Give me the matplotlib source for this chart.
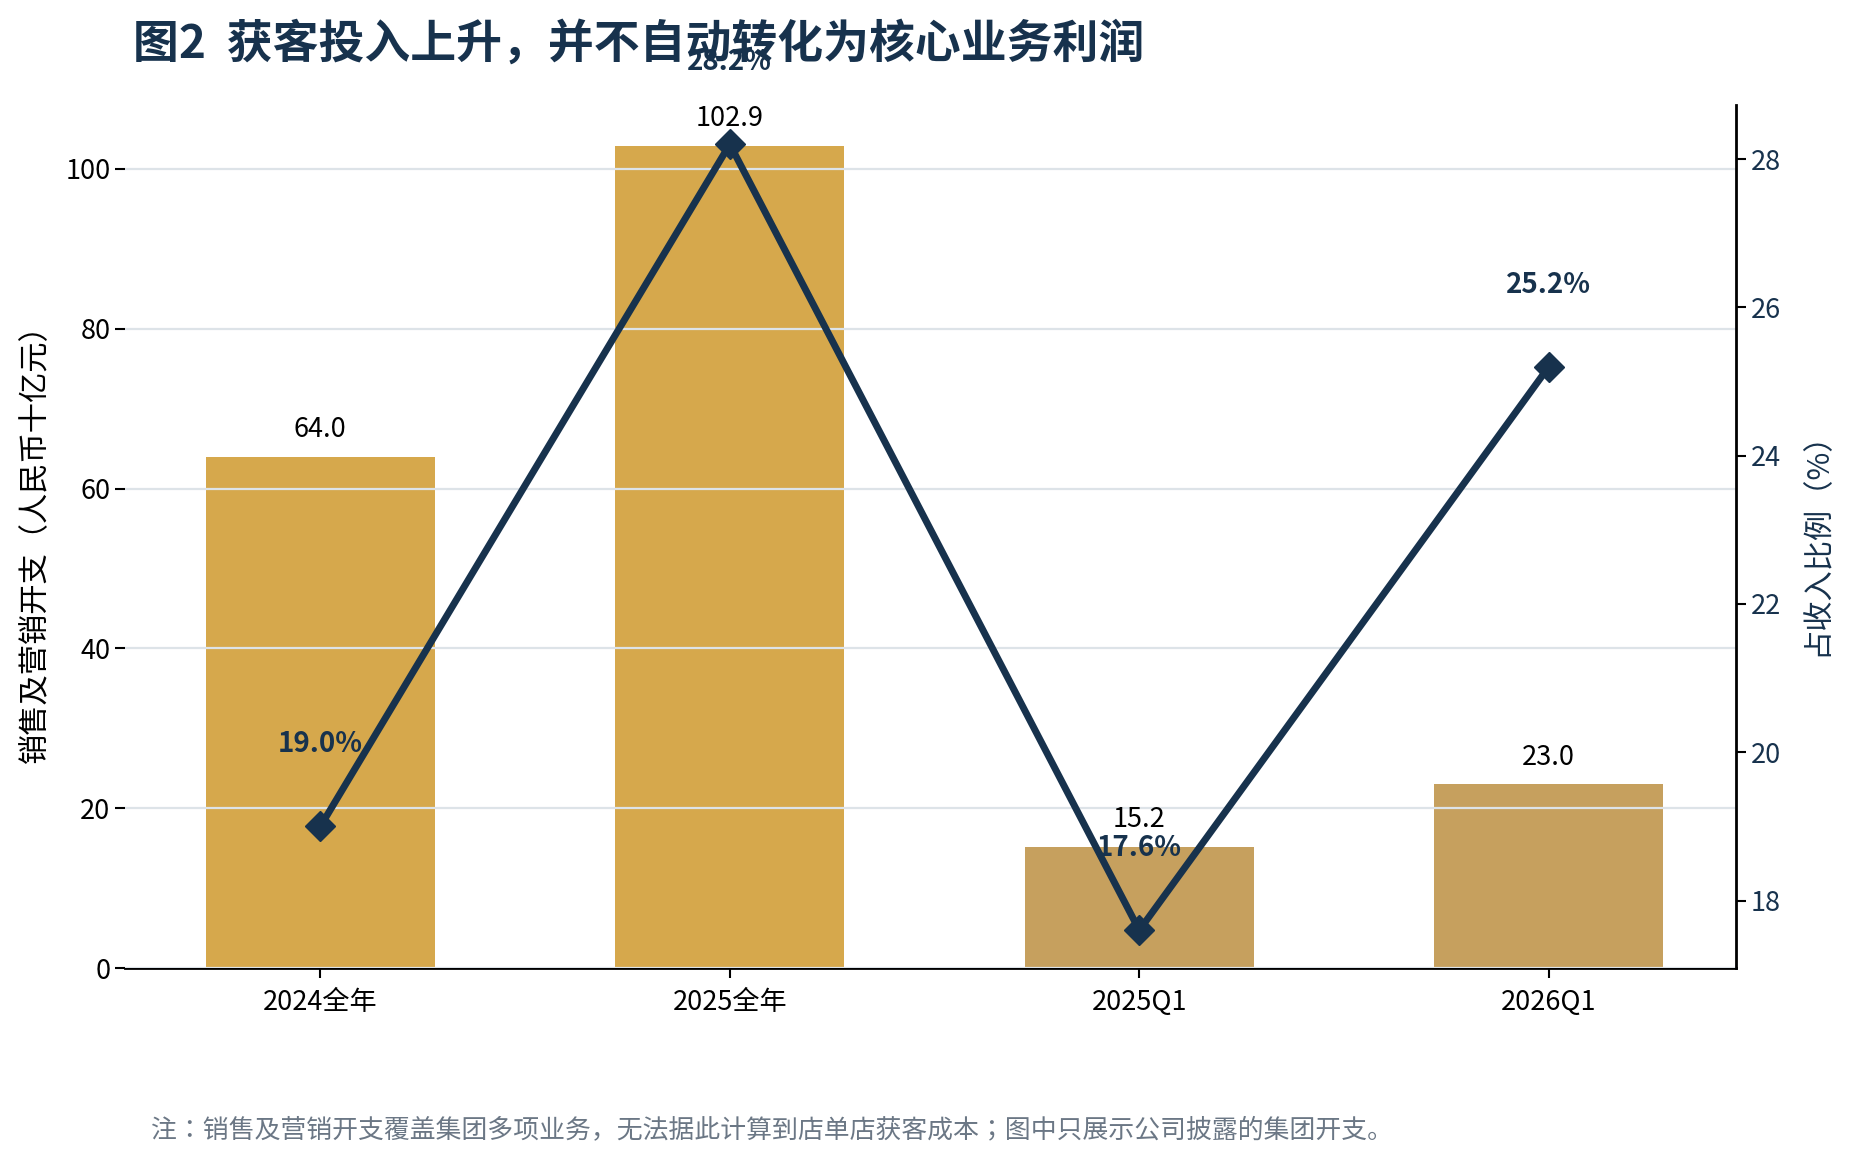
import matplotlib
matplotlib.use("Agg")
import matplotlib.pyplot as plt
import numpy as np

plt.rcParams['font.family'] = ['Noto Sans CJK SC', 'DejaVu Sans']

categories = ["2024全年", "2025全年", "2025Q1", "2026Q1"]
spend = [64.0, 102.9, 15.2, 23.0]
pct = [19.0, 28.2, 17.6, 25.2]
bar_colors = ["#D6A84C", "#D6A84C", "#C6A05E", "#C6A05E"]
left_ticks = [0, 20, 40, 60, 80, 100]
right_ticks = [18, 20, 22, 24, 26, 28]

title = "图2  获客投入上升，并不自动转化为核心业务利润"
ylabel_left = "销售及营销开支（人民币十亿元）"
ylabel_right = "占收入比例（%）"
note = "注：销售及营销开支覆盖集团多项业务，无法据此计算到店单店获客成本；图中只展示公司披露的集团开支。"

NAVY = "#17324D"

fig = plt.figure(figsize=(18.55, 11.68), dpi=100)
ax = fig.add_axes([0.0674, 0.1712, 0.8684, 0.7389])
x = np.arange(len(categories))

bars = ax.bar(x, spend, width=0.56, color=bar_colors, zorder=1)
ax.set_xlim(-0.477, 3.457)
ax.set_ylim(0, 108)
ax.set_yticks(left_ticks)
ax.set_xticks(x)
ax.set_xticklabels(categories)
ax.grid(axis='y', color="#DDE3E8", linewidth=1.6, zorder=2)
ax.set_axisbelow(False)
for s in ["top", "left", "right"]:
    ax.spines[s].set_visible(False)
ax.spines["bottom"].set_linewidth(2.0)
ax.tick_params(axis='both', labelsize=19.5, length=7, width=1.5, colors="black")
ax.tick_params(axis='x', pad=8)
ax.set_ylabel(ylabel_left, fontsize=21.8, labelpad=10)

for xi, v in zip(x, spend):
    ax.annotate(f"{v:.1f}", xy=(xi, v), xytext=(0, 14), textcoords='offset points',
                ha='center', va='baseline', fontsize=19.5, color="black")

ax2 = ax.twinx()
ax2.plot(x, pct, color=NAVY, linewidth=5, marker='D', markersize=15, zorder=3)
ax2.set_ylim(17.09, 28.73)
ax2.set_yticks(right_ticks)
for s in ["top", "left", "bottom"]:
    ax2.spines[s].set_visible(False)
ax2.spines["right"].set_linewidth(2.0)
ax2.tick_params(axis='y', labelsize=19.5, length=7, width=1.5, colors="black", labelcolor=NAVY)
ax2.set_ylabel(ylabel_right, fontsize=21.8, color=NAVY, labelpad=15)

for xi, v in zip(x, pct):
    ax2.text(xi, v + 1.0, f"{v:.1f}%", ha='center', va='baseline', fontsize=20,
             fontweight='bold', color=NAVY)

fig.text(0.0717, 0.962, title, fontsize=33, fontweight='bold', color=NAVY,
         ha='left', va='center')
fig.text(0.0814, 0.0325, note, fontsize=18.6, color="#6B7785", ha='left', va='center',
         family=['Noto Sans CJK JP', 'DejaVu Sans'])

fig.savefig("out.png", dpi=100)
